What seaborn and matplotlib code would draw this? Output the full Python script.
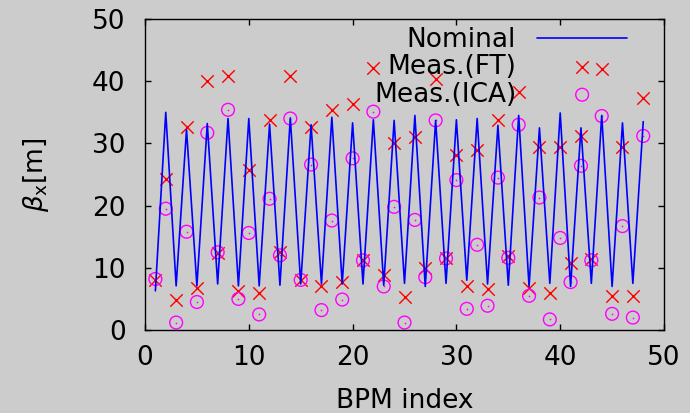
import matplotlib
matplotlib.use("Agg")
import matplotlib.pyplot as plt
import numpy as np
import pandas as pd
import seaborn as sns

bpm = list(range(1, 49))
nominal = [6.3, 35.0, 7.1, 32.2, 7.1, 33.2, 7.4, 34.0, 7.1, 34.0,
           7.1, 33.1, 7.2, 34.1, 7.4, 33.0, 7.4, 34.2, 7.4, 33.3,
           7.4, 33.8, 7.2, 33.7, 7.5, 34.5, 7.0, 33.7, 7.5, 33.8,
           8.0, 34.0, 7.4, 32.9, 7.2, 34.5, 7.0, 32.5, 7.5, 34.9,
           7.0, 32.5, 7.5, 34.5, 7.0, 33.3, 7.5, 33.5]
meas_ft = [8.1, 24.2, 4.8, 32.6, 6.7, 40.0, 12.4, 40.9, 6.3, 25.7,
           5.9, 33.7, 12.6, 40.8, 8.1, 32.7, 7.0, 35.4, 7.7, 36.3,
           11.2, 42.1, 8.9, 30.1, 5.3, 31.0, 9.9, 40.4, 11.6, 28.1,
           7.0, 29.0, 6.6, 33.8, 11.9, 38.3, 6.7, 29.4, 5.9, 29.4,
           10.7, 31.2, 11.4, 42.0, 5.4, 29.4, 5.4, 37.3]
meas_ica = [8.2, 19.5, 1.2, 15.8, 4.5, 31.7, 12.5, 35.4, 5.0, 15.6,
            2.5, 21.1, 12.0, 34.0, 8.05, 26.6, 3.2, 17.6, 4.9, 27.6,
            11.2, 35.1, 7.0, 19.8, 1.2, 17.7, 8.5, 33.7, 11.5, 24.1,
            3.4, 13.7, 3.9, 24.5, 11.6, 33.0, 5.5, 21.3, 1.7, 14.8,
            7.7, 26.4, 11.2, 34.4, 2.6, 16.7, 2.0, 31.2]
x_ticks = [0, 10, 20, 30, 40, 50]
y_ticks = [0, 10, 20, 30, 40, 50]
series_labels = ["Nominal", "Meas.(FT)", "Meas.(ICA)"]

sns.set_style("ticks")
plt.rcParams['font.family'] = ['DejaVu Sans']
plt.rcParams['mathtext.fontset'] = 'dejavusans'
plt.rcParams['text.color'] = 'black'
plt.rcParams['axes.labelcolor'] = 'black'
FS = 19
bg = '#cccccc'

fig = plt.figure(figsize=(6.9, 4.13), dpi=100, facecolor=bg)
ax = fig.add_axes([145 / 690, 1 - 330 / 413, (664 - 145) / 690, (330 - 19) / 413])
ax.set_facecolor(bg)

df = pd.DataFrame({'bpm': bpm, 'nominal': nominal, 'ft': meas_ft, 'ica': meas_ica})

sns.lineplot(data=df, x='bpm', y='nominal', color='#0000ff', linewidth=1.2,
             ax=ax, label=series_labels[0])
sns.scatterplot(data=df, x='bpm', y='ft', marker='x', color='#ff0000', s=80,
                linewidth=1.0, ax=ax, label=series_labels[1])
sns.scatterplot(data=df, x='bpm', y='ica', marker='o', facecolor='none',
                edgecolor='#ff00ff', s=85, linewidth=1.0, ax=ax,
                label=series_labels[2])
sns.scatterplot(data=df, x='bpm', y='ica', marker='o', color='#ff00ff', s=1.5,
                linewidth=0, ax=ax, legend=False)

ax.set_xlim(0, 50)
ax.set_ylim(0, 50)
ax.set_xticks(x_ticks)
ax.set_yticks(y_ticks)
ax.tick_params(direction='in', length=4.3, width=1.0, top=True, right=True,
               labelsize=FS, colors='black')
ax.tick_params(axis='y', pad=14)
ax.tick_params(axis='x', pad=11)
for sp in ax.spines.values():
    sp.set_visible(True)
    sp.set_linewidth(1.0)
    sp.set_color('black')

ax.set_xlabel("BPM index", fontsize=FS, color='black')
ax.set_ylabel(r"$\beta_{\mathrm{x}}$[m]", fontsize=FS, color='black')
ax.yaxis.set_label_coords(-0.181, 0.5)
ax.xaxis.set_label_coords(0.5, -0.185)

handles, labels = ax.get_legend_handles_labels()
leg = ax.legend(handles, labels, loc='upper right',
                bbox_to_anchor=((627 - 145) / 519, (330 - 27) / 311),
                markerfirst=False, frameon=False, fontsize=FS,
                handlelength=3.4, handletextpad=0.8, labelspacing=0.05,
                borderpad=0, borderaxespad=0, scatterpoints=1,
                labelcolor='black')

fig.savefig("out.png", dpi=100, facecolor=bg)
